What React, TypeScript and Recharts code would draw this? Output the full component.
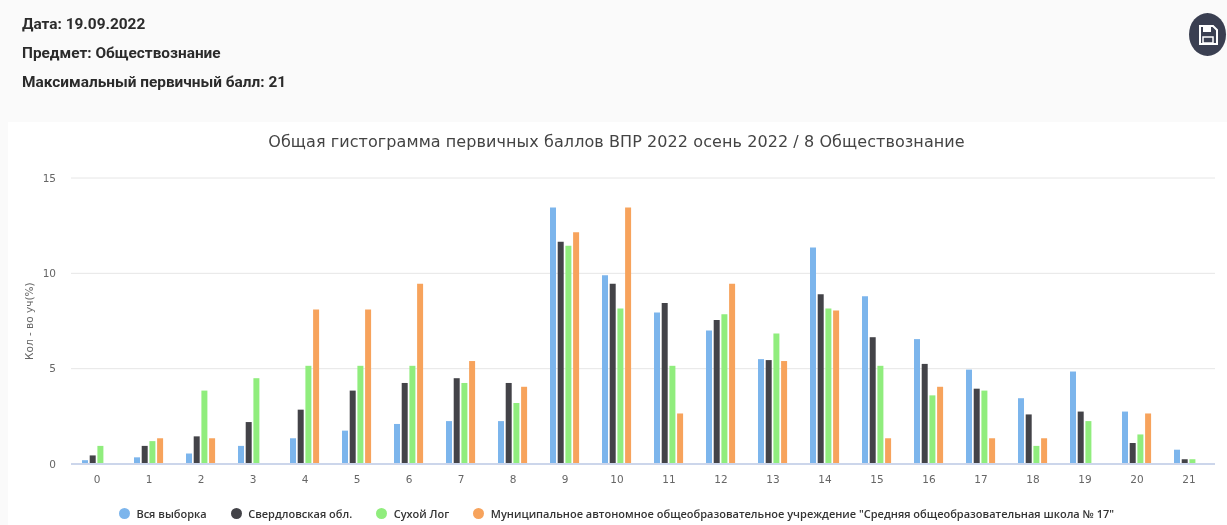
import React from "react";
import { BarChart, Bar, XAxis, YAxis, CartesianGrid, Legend } from "recharts";

const categories = ["0","1","2","3","4","5","6","7","8","9","10","11","12","13","14","15","16","17","18","19","20","21"];
const allSample = [0.2,0.35,0.55,0.95,1.35,1.75,2.1,2.25,2.25,13.45,9.9,7.95,7.0,5.5,11.35,8.8,6.55,4.95,3.45,4.85,2.75,0.75];
const sverdlovsk = [0.45,0.95,1.45,2.2,2.85,3.85,4.25,4.5,4.25,11.65,9.45,8.45,7.55,5.45,8.9,6.65,5.25,3.95,2.6,2.75,1.1,0.25];
const sukhoiLog = [0.95,1.2,3.85,4.5,5.15,5.15,5.15,4.25,3.2,11.45,8.15,5.15,7.85,6.85,8.15,5.15,3.6,3.85,0.95,2.25,1.55,0.25];
const school = [0,1.35,1.35,0,8.1,8.1,9.45,5.4,4.05,12.15,13.45,2.65,9.45,5.4,8.05,1.35,4.05,1.35,1.35,0,2.65,0];
const yTicks = [0,5,10,15];

const seriesNames = ["Вся выборка","Свердловская обл.","Сухой Лог","Муниципальное автономное общеобразовательное учреждение \"Средняя общеобразовательная школа № 17\""];
const seriesColors = ["#7cb5ec","#434348","#90ed7d","#f7a35c"];
const headerLines = ["Дата: 19.09.2022","Предмет: Обществознание","Максимальный первичный балл: 21"];
const title = "Общая гистограмма первичных баллов ВПР 2022 осень 2022 / 8 Обществознание";

const rows = categories.map((c, i) => ({ c, a: allSample[i], b: sverdlovsk[i], g: sukhoiLog[i], s: school[i] }));
const keys = ["a","b","g","s"];
const chartFont = "'DejaVu Sans', sans-serif";

function LegendRow() {
  return (
    <div style={{ display: "flex", justifyContent: "center", alignItems: "center", gap: 24, fontFamily: "'Open Sans', sans-serif", fontSize: 11, fontWeight: 600, color: "#333", whiteSpace: "nowrap" }}>
      {seriesNames.map((n, i) => (
        <span key={n} style={{ display: "inline-flex", alignItems: "center", gap: 6.5 }}>
          <span style={{ width: 11, height: 11, borderRadius: "50%", background: seriesColors[i], display: "inline-block" }} />
          {n}
        </span>
      ))}
    </div>
  );
}

export default function App() {
  return (
    <div style={{ position: "absolute", left: 0, top: 0, width: 1227, height: 525, overflow: "hidden", background: "#fafafa", filter: "blur(0.4px)" }}>
      {headerLines.map((t, i) => (
        <div key={t} style={{ position: "absolute", left: 22, top: 14 + i * 29, fontFamily: "Roboto, sans-serif", fontWeight: 700, fontSize: 15.4, color: "#2b2b2b", lineHeight: "20px", whiteSpace: "nowrap" }}>{t}</div>
      ))}
      <svg width={38} height={44} viewBox="0 0 38 44" style={{ position: "absolute", left: 1189, top: 13 }}>
        <ellipse cx={18.5} cy={21.5} rx={18.5} ry={21.5} fill="#3a3f51" />
        <path d="M11 13 h13 l4 4 v14 h-17 z" fill="none" stroke="#fff" strokeWidth={2} />
        <rect x={14} y={14} width={8} height={5} fill="#fff" />
        <rect x={14} y={24} width={10} height={6} fill="none" stroke="#fff" strokeWidth={1.5} />
      </svg>
      <div style={{ position: "absolute", left: 8, top: 122, width: 1219, height: 403, background: "#fff" }} />
      <div style={{ position: "absolute", left: 0, width: 1233, top: 132, textAlign: "center", fontFamily: chartFont, fontSize: 16, letterSpacing: 0.08, color: "#444", whiteSpace: "nowrap" }}>{title}</div>
      <div style={{ position: "absolute", left: 0, top: 0 }}>
        <BarChart width={1227} height={525} data={rows} margin={{ top: 178, right: 12, bottom: 0, left: 0 }} barSize={6} barGap={1.7}>
          <CartesianGrid vertical={false} stroke="#e6e6e6" />
          <XAxis dataKey="c" height={46} interval={0} tickLine={false} axisLine={{ stroke: "#ccd6eb", strokeWidth: 2 }} tick={{ fill: "#666", fontSize: 10.5, fontFamily: chartFont }} tickMargin={6} />
          <YAxis width={71} domain={[0, 15]} ticks={yTicks} tickLine={false} axisLine={false} tick={{ fill: "#666", fontSize: 10.5, fontFamily: chartFont }} tickMargin={9}
            label={{ value: "Кол - во уч(%)", angle: -90, position: "insideLeft", dx: 24, dy: 39, style: { fill: "#666", fontSize: 10.5, fontFamily: chartFont } }} />
          <Legend verticalAlign="bottom" content={<LegendRow />} wrapperStyle={{ bottom: 4, left: 0, width: 1233 }} />
          {keys.map((k, i) => (
            <Bar key={k} dataKey={k} name={seriesNames[i]} fill={seriesColors[i]} isAnimationActive={false} />
          ))}
        </BarChart>
      </div>
    </div>
  );
}
